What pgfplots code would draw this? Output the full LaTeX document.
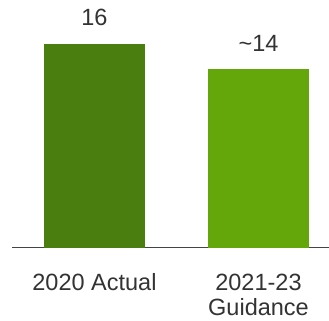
\documentclass[border=0pt]{standalone}
\usepackage{pgfplots}
\pgfplotsset{compat=1.18}
\usepackage{fontspec}
\setmainfont{Liberation Sans}
\definecolor{dk}{HTML}{4A7E0E}
\definecolor{lt}{HTML}{64A70B}
\definecolor{tx}{HTML}{333333}
\definecolor{axc}{HTML}{444444}
\begin{document}
\begin{tikzpicture}
\path[use as bounding box] (0,0) rectangle (329bp,321bp);
\begin{axis}[
  at={(12bp,73.3bp)}, anchor=south west,
  scale only axis, width=317bp, height=247.7bp,
  xmin=-0.503, xmax=1.43, ymin=0, ymax=19.41,
  axis y line=none, axis x line*=bottom,
  x axis line style={-, line width=1.2bp, color=axc},
  xtick={0,1}, xticklabels={{2020 Actual\\\mbox{}}, {2021-23\\Guidance}},
  xtick style={draw=none}, major tick length=0pt,
  xticklabel style={align=center, font=\fontsize{23.5bp}{25bp}\selectfont, text=tx, anchor=base, yshift=-67.3bp, inner sep=0pt},
  ybar, bar width=101bp,
  nodes near coords, point meta=explicit symbolic,
  nodes near coords style={font=\fontsize{23.5bp}{26bp}\selectfont, text=tx, anchor=base, yshift=18bp, inner sep=0pt},
  clip=false,
]
\addplot[fill=dk, draw=none, bar shift=0pt] coordinates {(0,16) [16]};
\addplot[fill=lt, draw=none, bar shift=0pt] coordinates {(1,14) [\textasciitilde14]};
\end{axis}
\end{tikzpicture}
\end{document}
